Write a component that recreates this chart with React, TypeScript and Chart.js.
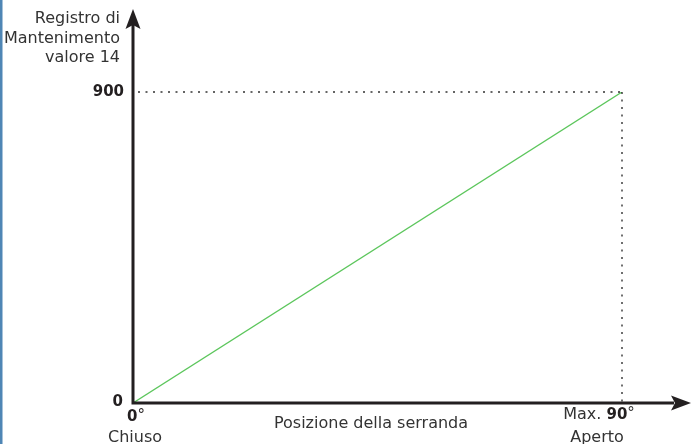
import React, { useEffect, useRef } from "react";
import { Chart, registerables } from "chart.js";

Chart.register(...registerables);

// Data
const positions: number[] = [0, 90]; // degrees
const registerValues: number[] = [0, 900];
const yTickLabels: string[] = ["0", "900"];
const yTickValues: number[] = [0, 900];
const yTitleLines: string[] = ["Registro di", "Mantenimento", "valore 14"];
const xTitle = "Posizione della serranda";
const xStartLabel = "0";
const xStartNote = "Chiuso";
const xEndPrefix = "Max. ";
const xEndLabel = "90";
const xEndNote = "Aperto";

const FONT = "'DejaVu Sans', Verdana, sans-serif";
const TEXT = "#333333";
const AXIS = "#231f20";

const overlay = {
  id: "overlay",
  afterDraw(chart: any) {
    const ctx = chart.ctx as CanvasRenderingContext2D;
    const xs = chart.scales.x;
    const ys = chart.scales.y;
    const x0 = xs.getPixelForValue(positions[0]);
    const x1 = xs.getPixelForValue(positions[positions.length - 1]);
    const y0 = ys.getPixelForValue(registerValues[0]);
    const y1 = ys.getPixelForValue(registerValues[registerValues.length - 1]);
    ctx.save();

    // left border
    ctx.fillStyle = "#4f86b5";
    ctx.fillRect(0, 0, 2.5, chart.height);

    // dotted guides
    ctx.strokeStyle = "#333333";
    ctx.lineWidth = 1.4;
    ctx.setLineDash([2, 5.5]);
    ctx.beginPath();
    ctx.moveTo(x0 + 5, y1);
    ctx.lineTo(x1, y1);
    ctx.moveTo(x1, y1);
    ctx.lineTo(x1, y0);
    ctx.stroke();
    ctx.setLineDash([]);

    // axes
    ctx.strokeStyle = AXIS;
    ctx.fillStyle = AXIS;
    ctx.lineWidth = 3;
    ctx.beginPath();
    ctx.moveTo(x0, y0 + 1.5);
    ctx.lineTo(x0, 24);
    ctx.moveTo(x0 - 1.5, y0);
    ctx.lineTo(674, y0);
    ctx.stroke();
    // y arrow
    ctx.beginPath();
    ctx.moveTo(x0, 9);
    ctx.lineTo(x0 + 7.5, 29);
    ctx.lineTo(x0, 25);
    ctx.lineTo(x0 - 7.5, 29);
    ctx.closePath();
    ctx.fill();
    // x arrow
    ctx.beginPath();
    ctx.moveTo(691, y0);
    ctx.lineTo(671, y0 - 7.5);
    ctx.lineTo(675, y0);
    ctx.lineTo(671, y0 + 7.5);
    ctx.closePath();
    ctx.fill();

    // y title
    ctx.fillStyle = TEXT;
    ctx.font = `16px ${FONT}`;
    ctx.textAlign = "right";
    ctx.textBaseline = "middle";
    const tY = [19, 39, 58];
    yTitleLines.forEach((t, i) => ctx.fillText(t, 120, tY[i]));

    // y ticks
    ctx.fillStyle = AXIS;
    ctx.font = `bold 15px ${FONT}`;
    yTickValues.forEach((v, i) => {
      const py = ys.getPixelForValue(v);
      ctx.fillText(yTickLabels[i], i === 0 ? 123 : 124, i === 0 ? py - 1 : py);
    });

    // x start label "0°"
    ctx.textAlign = "left";
    ctx.font = `bold 15px ${FONT}`;
    ctx.fillText(xStartLabel, x0 - 6, 417);
    const w0 = ctx.measureText(xStartLabel).width;
    ctx.font = `15px ${FONT}`;
    ctx.fillText("°", x0 - 6 + w0, 416);

    ctx.fillStyle = TEXT;
    ctx.font = `16px ${FONT}`;
    ctx.textAlign = "center";
    ctx.fillText(xStartNote, 135, 438);

    // x title
    ctx.fillText(xTitle, 371, 424);

    // x end label "Max. 90°"
    const endCx = x1 - 23;
    ctx.font = `16px ${FONT}`;
    const wp = ctx.measureText(xEndPrefix).width;
    ctx.font = `bold 15px ${FONT}`;
    const wl = ctx.measureText(xEndLabel).width;
    ctx.font = `15px ${FONT}`;
    const wd = ctx.measureText("°").width;
    let sx = endCx - (wp + wl + wd) / 2;
    ctx.textAlign = "left";
    ctx.font = `16px ${FONT}`;
    ctx.fillStyle = TEXT;
    ctx.fillText(xEndPrefix, sx, 415);
    ctx.font = `bold 15px ${FONT}`;
    ctx.fillStyle = AXIS;
    ctx.fillText(xEndLabel, sx + wp, 415);
    ctx.font = `15px ${FONT}`;
    ctx.fillStyle = TEXT;
    ctx.fillText("°", sx + wp + wl, 414);

    ctx.textAlign = "center";
    ctx.font = `16px ${FONT}`;
    ctx.fillText(xEndNote, x1 - 25, 438);

    ctx.restore();
  },
};

export default function App() {
  const ref = useRef<HTMLCanvasElement | null>(null);
  useEffect(() => {
    if (!ref.current) return;
    const chart = new Chart(ref.current, {
      type: "line",
      data: {
        datasets: [
          {
            data: positions.map((p, i) => ({ x: p, y: registerValues[i] })),
            borderColor: "#5cc65c",
            borderWidth: 1.3,
            pointRadius: 0,
            fill: false,
          },
        ],
      },
      options: {
        animation: false,
        responsive: false,
        events: [],
        layout: { padding: { left: 133, top: 92, right: 69, bottom: 41 } },
        plugins: { legend: { display: false }, tooltip: { enabled: false } },
        scales: {
          x: { type: "linear", min: 0, max: 90, display: false },
          y: { type: "linear", min: 0, max: 900, display: false },
        },
      },
      plugins: [overlay],
    });
    return () => chart.destroy();
  }, []);
  return (
    <div style={{ position: "fixed", left: 0, top: 0, width: 691, height: 444, background: "#fff" }}>
      <canvas ref={ref} width={691} height={444} style={{ width: 691, height: 444, display: "block" }} />
    </div>
  );
}
